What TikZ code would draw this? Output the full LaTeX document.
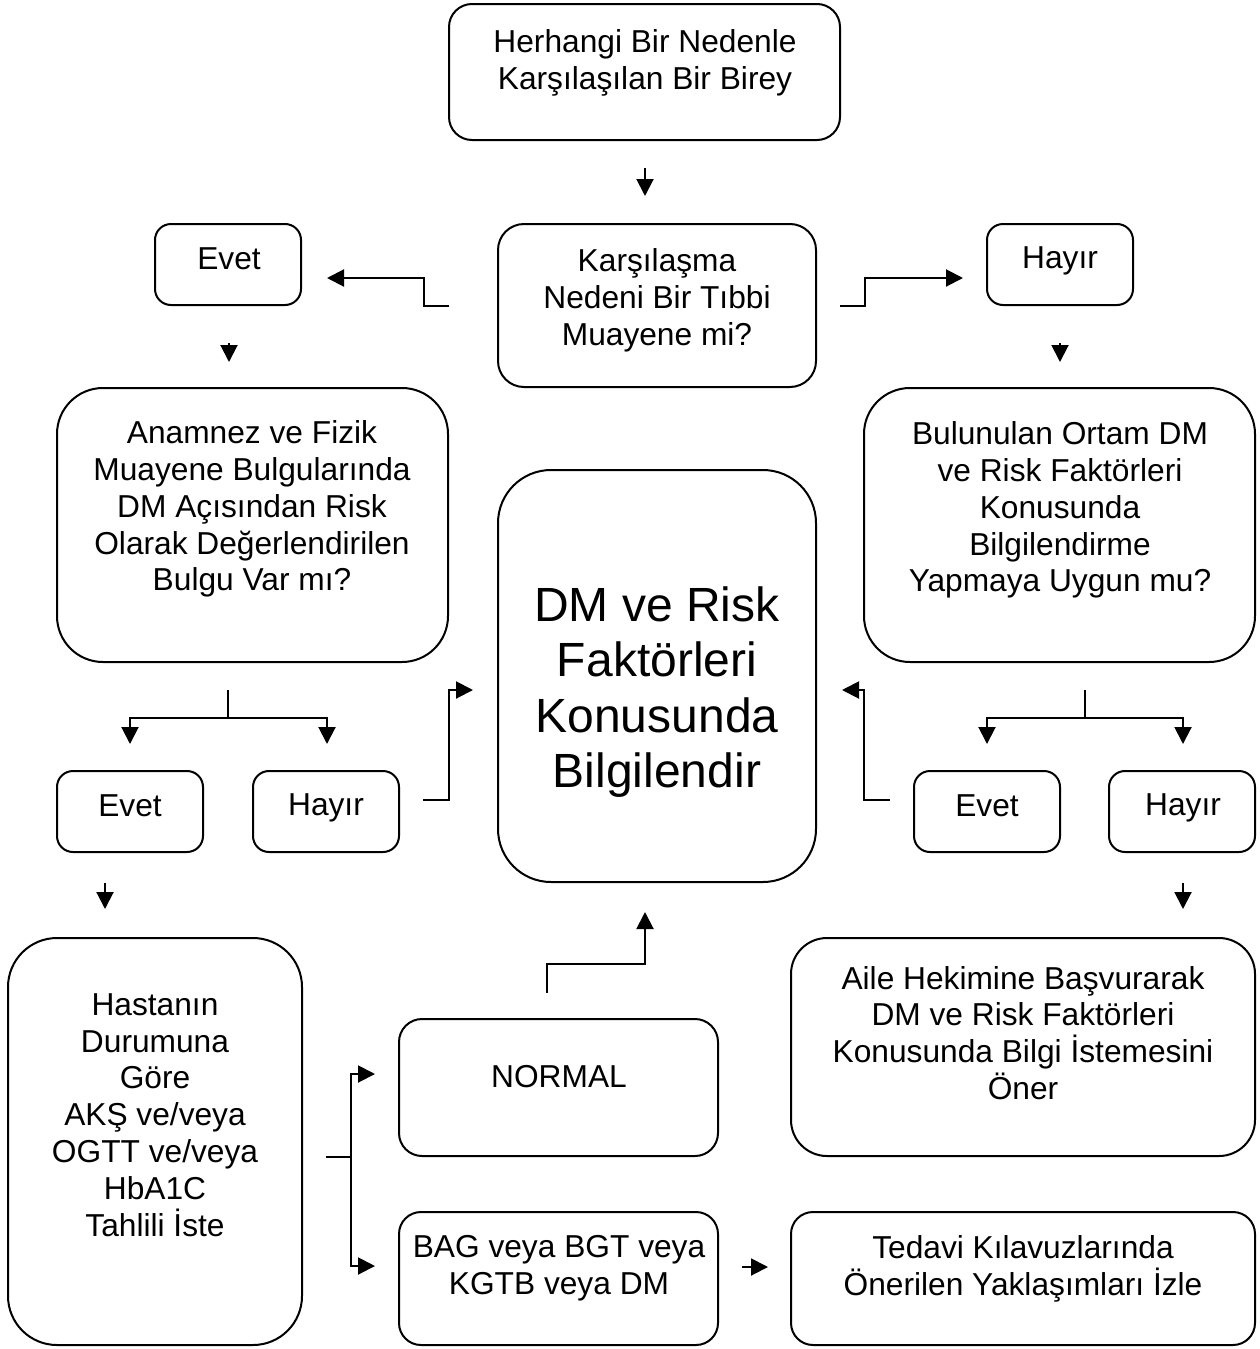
\documentclass[tikz,border=0pt]{standalone}
\usepackage{fontspec}
\setmainfont{Liberation Sans}
\usetikzlibrary{arrows.meta}
\begin{document}
\begin{tikzpicture}[x=0.5pt,y=-0.5pt,
  box/.style={draw, line width=1pt, inner sep=0pt, rounded corners=#1},
  box/.default=8pt,
  txt/.style={align=center, inner sep=0pt, font=\fontsize{15.85}{18.4}\selectfont},
  bigtxt/.style={align=center, inner sep=0pt, font=\fontsize{24}{27.6}\selectfont},
  link/.style={line width=1pt},
  arr/.style={line width=1pt, -{Triangle[length=8.5pt,width=8.5pt]}},
]
\useasboundingbox (0,0) rectangle (1259,1349);

% ---------- boxes ----------
\node[box=11.5pt, minimum width=195.5pt, minimum height=68pt] (start) at (644.5,72) {};
\node[txt] (start-t) at (645,63) {Herhangi Bir Nedenle\\Karşılaşılan Bir Birey};

\node[box=13pt, minimum width=159pt, minimum height=81.5pt] (quest) at (657,305.5) {};
\node[txt] (quest-t) at (657,300) {Karşılaşma\\Nedeni Bir Tıbbi\\Muayene mi?};

\node[box, minimum width=73pt, minimum height=40.5pt] (yes1) at (228,264.5) {};
\node[txt] (yes1-t) at (229,259) {Evet};
\node[box, minimum width=73pt, minimum height=40.5pt] (no1) at (1060,264.5) {};
\node[txt] (no1-t) at (1060,261) {Hayır};

\node[box=23pt, minimum width=195.5pt, minimum height=137pt] (exam) at (252.5,525) {};
\node[txt] (exam-t) at (252,509) {Anamnez ve Fizik\\Muayene Bulgularında\\DM Açısından Risk\\Olarak Değerlendirilen\\Bulgu Var mı?};

\node[box=23pt, minimum width=195.5pt, minimum height=137pt] (env) at (1059.5,525) {};
\node[txt] (env-t) at (1060,510) {Bulunulan Ortam DM\\ve Risk Faktörleri\\Konusunda\\Bilgilendirme\\Yapmaya Uygun mu?};

\node[box=26.5pt, minimum width=159pt, minimum height=206pt] (inform) at (657,676) {};
\node[bigtxt] (inform-t) at (657,692) {DM ve Risk\\Faktörleri\\Konusunda\\Bilgilendir};

\node[box, minimum width=73pt, minimum height=40.5pt] (yes2) at (130,811.5) {};
\node[txt] (yes2-t) at (130,806) {Evet};
\node[box, minimum width=73pt, minimum height=40.5pt] (no2) at (326,811.5) {};
\node[txt] (no2-t) at (326,808) {Hayır};
\node[box, minimum width=73pt, minimum height=40.5pt] (yes3) at (987,811.5) {};
\node[txt] (yes3-t) at (987,806) {Evet};
\node[box, minimum width=73pt, minimum height=40.5pt] (no3) at (1182,811.5) {};
\node[txt] (no3-t) at (1183,808) {Hayır};

\node[box=24.5pt, minimum width=147pt, minimum height=203.5pt] (test) at (155,1141.5) {};
\node[txt] (test-t) at (155,1115) {Hastanın\\Durumuna\\Göre\\AKŞ ve/veya\\OGTT ve/veya\\HbA1C\\Tahlili İste};

\node[box=11.5pt, minimum width=159.5pt, minimum height=68.5pt] (normal) at (558.5,1087.5) {};
\node[txt] (normal-t) at (559,1077) {NORMAL};

\node[box=11pt, minimum width=159.5pt, minimum height=66.5pt] (abn) at (558.5,1278.5) {};
\node[txt] (abn-t) at (559,1268) {BAG veya BGT veya\\KGTB veya DM};

\node[box=18pt, minimum width=232pt, minimum height=109pt] (gp) at (1023,1047) {};
\node[txt] (gp-t) at (1023,1033) {Aile Hekimine Başvurarak\\DM ve Risk Faktörleri\\Konusunda Bilgi İstemesini\\Öner};

\node[box=11pt, minimum width=232pt, minimum height=66.5pt] (treat) at (1023,1278.5) {};
\node[txt] (treat-t) at (1023,1269) {Tedavi Kılavuzlarında\\Önerilen Yaklaşımları İzle};

% ---------- connector end points ----------
\coordinate (s0) at (645,168);   \coordinate (s1) at (645,196);
\coordinate (ql0) at (449,306);  \coordinate (ql1) at (424,306);
\coordinate (ql2) at (424,278);  \coordinate (ql3) at (327,278);
\coordinate (qr0) at (840,306);  \coordinate (qr1) at (865,306);
\coordinate (qr2) at (865,278);  \coordinate (qr3) at (963,278);
\coordinate (y1a) at (229,343);  \coordinate (y1b) at (229,362);
\coordinate (n1a) at (1060,343); \coordinate (n1b) at (1060,362);
\coordinate (ea) at (228,690);   \coordinate (eb) at (228,718);
\coordinate (el) at (130,744);   \coordinate (er) at (327,744);
\coordinate (va) at (1085,690);  \coordinate (vb) at (1085,718);
\coordinate (vl) at (987,744);   \coordinate (vr) at (1183,744);
\coordinate (h0) at (423,800);   \coordinate (h1) at (449,800);
\coordinate (h2) at (449,690);   \coordinate (h3) at (473,690);
\coordinate (g0) at (890,800);   \coordinate (g1) at (864,800);
\coordinate (g2) at (864,690);   \coordinate (g3) at (842,690);
\coordinate (y2a) at (105,883);  \coordinate (y2b) at (105,909);
\coordinate (n3a) at (1183,883); \coordinate (n3b) at (1183,909);
\coordinate (m0) at (547,993);   \coordinate (m1) at (547,964);
\coordinate (m2) at (645,964);   \coordinate (m3) at (645,912);
\coordinate (t0) at (326,1157);  \coordinate (t1) at (351,1157);
\coordinate (tu) at (375,1074);  \coordinate (td) at (375,1266);
\coordinate (b0) at (742,1267);  \coordinate (b1) at (768,1267);

% ---------- connectors ----------
\draw[arr] (s0) -- (s1);
\draw[arr] (ql0) -- (ql1) -- (ql2) -- (ql3);
\draw[arr] (qr0) -- (qr1) -- (qr2) -- (qr3);
\draw[arr] (y1a) -- (y1b);
\draw[arr] (n1a) -- (n1b);
\draw[link] (ea) -- (eb);
\draw[arr] (eb) -| (el);
\draw[arr] (eb) -| (er);
\draw[link] (va) -- (vb);
\draw[arr] (vb) -| (vl);
\draw[arr] (vb) -| (vr);
\draw[arr] (h0) -- (h1) -- (h2) -- (h3);
\draw[arr] (g0) -- (g1) -- (g2) -- (g3);
\draw[arr] (y2a) -- (y2b);
\draw[arr] (n3a) -- (n3b);
\draw[arr] (m0) -- (m1) -- (m2) -- (m3);
\draw[link] (t0) -- (t1);
\draw[arr] (t1) |- (tu);
\draw[arr] (t1) |- (td);
\draw[arr] (b0) -- (b1);
\end{tikzpicture}
\end{document}
